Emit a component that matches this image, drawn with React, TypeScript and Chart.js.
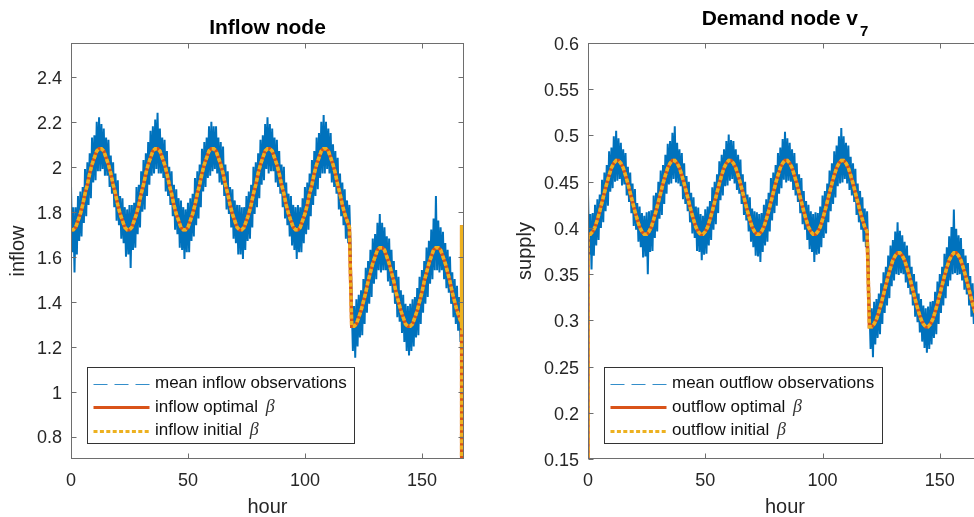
import React, { useEffect, useRef } from "react";
import { Chart, registerables } from "chart.js";

Chart.register(...registerables);

const FONT = "'Liberation Sans', Arial, Helvetica, sans-serif";
const BLUE = "#0072BD";
const RED = "#D95319";
const YELLOW = "#EDB120";
const TEXT = "#262626";
const FRAME = "#6e6e6e";

// ---------- axes ----------
const xTicks = [0, 50, 100, 150];
const inflowYTicks = [0.8, 1, 1.2, 1.4, 1.6, 1.8, 2, 2.2, 2.4];
const outflowYTicks = [0.15, 0.2, 0.25, 0.3, 0.35, 0.4, 0.45, 0.5, 0.55, 0.6];

// ---------- inflow node (hourly, hours 0..167) ----------
const inflowFit = [
  1.72, 1.72, 1.73, 1.76, 1.79, 1.83, 1.88, 1.92, 1.97, 2.01, 2.04, 2.07, 2.08, 2.08, 2.07, 2.04, 2.01, 1.97, 1.92, 1.88, 1.83, 1.79, 1.76, 1.73,
  1.72, 1.72, 1.73, 1.76, 1.79, 1.83, 1.88, 1.92, 1.97, 2.01, 2.04, 2.07, 2.08, 2.08, 2.07, 2.04, 2.01, 1.97, 1.92, 1.88, 1.83, 1.79, 1.76, 1.73,
  1.72, 1.72, 1.73, 1.76, 1.79, 1.83, 1.88, 1.92, 1.97, 2.01, 2.04, 2.07, 2.08, 2.08, 2.07, 2.04, 2.01, 1.97, 1.92, 1.88, 1.83, 1.79, 1.76, 1.73,
  1.72, 1.72, 1.73, 1.76, 1.79, 1.83, 1.88, 1.92, 1.97, 2.01, 2.04, 2.07, 2.08, 2.08, 2.07, 2.04, 2.01, 1.97, 1.92, 1.88, 1.83, 1.79, 1.76, 1.73,
  1.72, 1.72, 1.73, 1.76, 1.79, 1.83, 1.88, 1.92, 1.97, 2.01, 2.04, 2.07, 2.08, 2.08, 2.07, 2.04, 2.01, 1.97, 1.92, 1.88, 1.83, 1.79, 1.76, 1.73,
  1.29, 1.29, 1.30, 1.33, 1.36, 1.40, 1.44, 1.49, 1.53, 1.57, 1.60, 1.63, 1.64, 1.64, 1.63, 1.60, 1.57, 1.53, 1.49, 1.44, 1.40, 1.36, 1.33, 1.30,
  1.29, 1.29, 1.30, 1.33, 1.36, 1.40, 1.44, 1.49, 1.53, 1.57, 1.60, 1.63, 1.64, 1.64, 1.63, 1.60, 1.57, 1.53, 1.49, 1.44, 1.40, 1.36, 1.33, 1.30,
];
const inflowFitPreX: number[] = [];
const inflowFitPreY: number[] = [];
const inflowFitPostX = [167, 167];
const inflowFitPostY = [1.74, 0];

const inflowObsHigh = [
  1.92, 1.82, 1.82, 1.87, 1.89, 1.91, 1.99, 2.02, 2.06, 2.13, 2.14, 2.20, 2.22, 2.19, 2.17, 2.13, 2.12, 2.05, 2.02, 1.97, 1.94, 1.87, 1.86, 1.82,
  1.81, 1.83, 1.83, 1.84, 1.91, 1.92, 1.98, 2.03, 2.06, 2.11, 2.16, 2.18, 2.21, 2.24, 2.17, 2.13, 2.12, 2.07, 2.00, 1.98, 1.92, 1.90, 1.86, 1.85,
  1.82, 1.81, 1.84, 1.86, 1.88, 1.95, 1.98, 2.01, 2.08, 2.11, 2.13, 2.18, 2.20, 2.18, 2.18, 2.13, 2.11, 2.09, 2.01, 1.98, 1.91, 1.90, 1.85, 1.83,
  1.83, 1.82, 1.82, 1.87, 1.89, 1.92, 2.00, 2.02, 2.06, 2.12, 2.14, 2.19, 2.22, 2.19, 2.17, 2.13, 2.12, 2.07, 2.01, 2.00, 1.93, 1.88, 1.87, 1.83,
  1.82, 1.83, 1.82, 1.86, 1.91, 1.93, 1.97, 2.03, 2.07, 2.13, 2.15, 2.20, 2.23, 2.20, 2.17, 2.15, 2.10, 2.07, 2.04, 1.97, 1.93, 1.90, 1.85, 1.83,
  1.39, 1.38, 1.41, 1.43, 1.45, 1.50, 1.55, 1.58, 1.63, 1.68, 1.70, 1.75, 1.79, 1.75, 1.73, 1.69, 1.68, 1.63, 1.58, 1.54, 1.51, 1.45, 1.43, 1.39,
  1.38, 1.39, 1.41, 1.42, 1.46, 1.51, 1.54, 1.58, 1.64, 1.67, 1.72, 1.77, 1.87, 1.76, 1.73, 1.71, 1.66, 1.63, 1.60, 1.53, 1.50, 1.47, 1.42, 1.40,
];
const inflowObsLow = [
  1.62, 1.53, 1.61, 1.67, 1.69, 1.75, 1.78, 1.83, 1.86, 1.93, 1.94, 1.98, 1.98, 1.99, 1.96, 1.96, 1.91, 1.88, 1.82, 1.76, 1.74, 1.68, 1.66, 1.60,
  1.61, 1.55, 1.63, 1.64, 1.70, 1.73, 1.80, 1.81, 1.87, 1.92, 1.96, 1.97, 1.99, 1.97, 1.97, 1.95, 1.89, 1.87, 1.83, 1.78, 1.72, 1.70, 1.64, 1.63,
  1.59, 1.62, 1.62, 1.67, 1.69, 1.74, 1.77, 1.82, 1.89, 1.91, 1.95, 1.96, 1.98, 1.99, 1.97, 1.93, 1.92, 1.87, 1.81, 1.79, 1.73, 1.68, 1.66, 1.61,
  1.61, 1.59, 1.63, 1.67, 1.68, 1.73, 1.79, 1.82, 1.86, 1.92, 1.94, 1.99, 1.97, 1.98, 1.98, 1.93, 1.91, 1.88, 1.82, 1.77, 1.74, 1.69, 1.65, 1.63,
  1.59, 1.62, 1.62, 1.66, 1.70, 1.72, 1.78, 1.83, 1.87, 1.90, 1.95, 1.97, 1.97, 1.99, 1.97, 1.93, 1.91, 1.88, 1.81, 1.78, 1.74, 1.68, 1.66, 1.64,
  1.18, 1.15, 1.20, 1.24, 1.25, 1.30, 1.35, 1.39, 1.42, 1.48, 1.50, 1.54, 1.53, 1.54, 1.54, 1.49, 1.47, 1.44, 1.39, 1.33, 1.31, 1.26, 1.22, 1.18,
  1.16, 1.18, 1.20, 1.24, 1.25, 1.30, 1.35, 1.39, 1.42, 1.48, 1.50, 1.54, 1.54, 1.53, 1.54, 1.50, 1.46, 1.44, 1.39, 1.33, 1.30, 1.27, 1.22, 1.20,
];

// ---------- demand node v7 (hourly, hours 0..167) ----------
const outflowFit = [
  0.393, 0.393, 0.396, 0.401, 0.409, 0.418, 0.428, 0.438, 0.448, 0.457, 0.465, 0.470, 0.473, 0.473, 0.470, 0.465, 0.457, 0.448, 0.438, 0.428, 0.418, 0.409, 0.401, 0.396,
  0.393, 0.393, 0.396, 0.401, 0.409, 0.418, 0.428, 0.438, 0.448, 0.457, 0.465, 0.470, 0.473, 0.473, 0.470, 0.465, 0.457, 0.448, 0.438, 0.428, 0.418, 0.409, 0.401, 0.396,
  0.393, 0.393, 0.396, 0.401, 0.409, 0.418, 0.428, 0.438, 0.448, 0.457, 0.465, 0.470, 0.473, 0.473, 0.470, 0.465, 0.457, 0.448, 0.438, 0.428, 0.418, 0.409, 0.401, 0.396,
  0.393, 0.393, 0.396, 0.401, 0.409, 0.418, 0.428, 0.438, 0.448, 0.457, 0.465, 0.470, 0.473, 0.473, 0.470, 0.465, 0.457, 0.448, 0.438, 0.428, 0.418, 0.409, 0.401, 0.396,
  0.393, 0.393, 0.396, 0.401, 0.409, 0.418, 0.428, 0.438, 0.448, 0.457, 0.465, 0.470, 0.473, 0.473, 0.470, 0.465, 0.457, 0.448, 0.438, 0.428, 0.418, 0.409, 0.401, 0.396,
  0.293, 0.293, 0.296, 0.301, 0.309, 0.318, 0.328, 0.338, 0.348, 0.357, 0.365, 0.370, 0.373, 0.373, 0.370, 0.365, 0.357, 0.348, 0.338, 0.328, 0.318, 0.309, 0.301, 0.296,
  0.293, 0.293, 0.296, 0.301, 0.309, 0.318, 0.328, 0.338, 0.348, 0.357, 0.365, 0.370, 0.373, 0.373, 0.370, 0.365, 0.357, 0.348, 0.338, 0.328, 0.318, 0.309, 0.301, 0.296,
];
const outflowFitPreX = [0];
const outflowFitPreY = [0];
const outflowFitPostX = [167, 167];
const outflowFitPostY = [0.396, 0];

const outflowObsHigh = [
  0.438, 0.415, 0.416, 0.425, 0.431, 0.436, 0.452, 0.460, 0.468, 0.483, 0.487, 0.499, 0.505, 0.497, 0.492, 0.485, 0.481, 0.466, 0.460, 0.448, 0.442, 0.427, 0.423, 0.416,
  0.413, 0.417, 0.418, 0.419, 0.435, 0.438, 0.450, 0.462, 0.468, 0.479, 0.491, 0.494, 0.503, 0.510, 0.492, 0.485, 0.481, 0.470, 0.456, 0.450, 0.438, 0.433, 0.423, 0.422,
  0.415, 0.413, 0.420, 0.423, 0.429, 0.444, 0.450, 0.458, 0.472, 0.479, 0.485, 0.494, 0.501, 0.495, 0.494, 0.485, 0.479, 0.474, 0.458, 0.450, 0.436, 0.433, 0.421, 0.418,
  0.417, 0.415, 0.416, 0.425, 0.431, 0.438, 0.454, 0.460, 0.468, 0.481, 0.487, 0.496, 0.504, 0.497, 0.492, 0.485, 0.481, 0.470, 0.458, 0.454, 0.440, 0.429, 0.425, 0.418,
  0.415, 0.417, 0.416, 0.423, 0.435, 0.440, 0.448, 0.462, 0.470, 0.483, 0.489, 0.499, 0.508, 0.499, 0.492, 0.489, 0.477, 0.470, 0.464, 0.448, 0.440, 0.433, 0.421, 0.418,
  0.315, 0.313, 0.320, 0.323, 0.329, 0.340, 0.352, 0.358, 0.370, 0.381, 0.387, 0.396, 0.406, 0.397, 0.392, 0.385, 0.381, 0.370, 0.358, 0.350, 0.342, 0.329, 0.323, 0.316,
  0.313, 0.315, 0.320, 0.321, 0.331, 0.342, 0.350, 0.358, 0.372, 0.379, 0.391, 0.401, 0.420, 0.399, 0.392, 0.389, 0.377, 0.370, 0.362, 0.348, 0.340, 0.333, 0.321, 0.318,
];
const outflowObsLow = [
  0.371, 0.355, 0.370, 0.381, 0.387, 0.400, 0.406, 0.418, 0.424, 0.439, 0.443, 0.450, 0.451, 0.453, 0.446, 0.447, 0.435, 0.428, 0.416, 0.402, 0.398, 0.385, 0.379, 0.368,
  0.369, 0.350, 0.374, 0.375, 0.389, 0.396, 0.410, 0.414, 0.426, 0.437, 0.447, 0.448, 0.453, 0.449, 0.448, 0.445, 0.431, 0.426, 0.418, 0.406, 0.394, 0.389, 0.375, 0.374,
  0.365, 0.371, 0.372, 0.381, 0.387, 0.398, 0.404, 0.416, 0.430, 0.435, 0.445, 0.446, 0.451, 0.453, 0.448, 0.441, 0.437, 0.426, 0.414, 0.408, 0.396, 0.385, 0.379, 0.370,
  0.369, 0.363, 0.374, 0.381, 0.385, 0.396, 0.408, 0.416, 0.424, 0.437, 0.443, 0.452, 0.449, 0.451, 0.450, 0.441, 0.435, 0.428, 0.416, 0.404, 0.398, 0.387, 0.377, 0.374,
  0.363, 0.371, 0.372, 0.379, 0.389, 0.394, 0.406, 0.418, 0.426, 0.433, 0.445, 0.448, 0.449, 0.453, 0.448, 0.441, 0.435, 0.428, 0.414, 0.406, 0.398, 0.385, 0.379, 0.376,
  0.269, 0.260, 0.274, 0.281, 0.285, 0.296, 0.308, 0.316, 0.324, 0.337, 0.343, 0.350, 0.349, 0.351, 0.350, 0.341, 0.335, 0.328, 0.316, 0.304, 0.298, 0.287, 0.277, 0.270,
  0.265, 0.269, 0.274, 0.281, 0.285, 0.296, 0.308, 0.316, 0.324, 0.337, 0.343, 0.350, 0.351, 0.349, 0.350, 0.343, 0.333, 0.328, 0.316, 0.304, 0.296, 0.289, 0.277, 0.274,
];

const inflowLabels = ["mean inflow observations", "inflow optimal β", "inflow initial β"];
const outflowLabels = ["mean outflow observations", "outflow optimal β", "outflow initial β"];

// ---------- helpers ----------
type Pt = { x: number; y: number };

function obsPoints(high: number[], low: number[]): Pt[] {
  const pts: Pt[] = [];
  high.forEach((h, i) => {
    pts.push({ x: i, y: h });
    pts.push({ x: i + 0.5, y: low[i] });
  });
  return pts;
}

function fitPoints(fit: number[], preX: number[], preY: number[], postX: number[], postY: number[]): Pt[] {
  const pts: Pt[] = [];
  preX.forEach((x, i) => pts.push({ x, y: preY[i] }));
  fit.forEach((y, i) => pts.push({ x: i, y }));
  postX.forEach((x, i) => pts.push({ x, y: postY[i] }));
  return pts;
}

const framePlugin = {
  id: "matlabFrame",
  afterDatasetsDraw(chart: any) {
    const { ctx, chartArea, scales } = chart;
    const { left, right, top, bottom } = chartArea;
    const L = Math.round(left) + 0.5;
    const R = Math.round(right) - 0.5;
    const T = Math.round(top) + 0.5;
    const B = Math.round(bottom) - 0.5;
    ctx.save();
    ctx.strokeStyle = FRAME;
    ctx.lineWidth = 1;
    ctx.setLineDash([]);
    ctx.strokeRect(L, T, R - L, B - T);
    const tl = 5;
    ctx.beginPath();
    scales.x.ticks.forEach((t: any) => {
      const px = Math.round(scales.x.getPixelForValue(t.value)) + 0.5;
      ctx.moveTo(px, B);
      ctx.lineTo(px, B - tl);
      ctx.moveTo(px, T);
      ctx.lineTo(px, T + tl);
    });
    scales.y.ticks.forEach((t: any) => {
      const py = Math.round(scales.y.getPixelForValue(t.value)) + 0.5;
      ctx.moveTo(L, py);
      ctx.lineTo(L + tl, py);
      ctx.moveTo(R, py);
      ctx.lineTo(R - tl, py);
    });
    ctx.stroke();
    ctx.restore();
  },
};

const legendPlugin = {
  id: "matlabLegend",
  afterDraw(chart: any) {
    const { ctx, chartArea } = chart;
    const datasets = chart.data.datasets;
    const fontMain = `17px ${FONT}`;
    const fontBeta = `italic 18px 'Liberation Serif', 'DejaVu Serif', serif`;
    ctx.save();
    const widths = datasets.map((d: any) => {
      const label: string = d.label;
      if (label.endsWith("β")) {
        ctx.font = fontMain;
        const w1 = ctx.measureText(label.slice(0, -1)).width;
        ctx.font = fontBeta;
        return w1 + 3 + ctx.measureText("β").width;
      }
      ctx.font = fontMain;
      return ctx.measureText(label).width;
    });
    const maxW = Math.max(...widths);
    const boxL = Math.round(chartArea.left + 16) + 0.5;
    const boxB = Math.round(chartArea.bottom - 16) + 0.5;
    const boxH = 76;
    const boxT = boxB - boxH;
    const boxW = Math.round(67.5 + maxW + 8);
    ctx.fillStyle = "#ffffff";
    ctx.fillRect(boxL, boxT, boxW, boxH);
    ctx.strokeStyle = "#333333";
    ctx.lineWidth = 1;
    ctx.setLineDash([]);
    ctx.strokeRect(boxL, boxT, boxW, boxH);
    const rows = [boxT + 16, boxT + 39.5, boxT + 63];
    datasets.forEach((d: any, i: number) => {
      const y = rows[i];
      ctx.save();
      ctx.beginPath();
      ctx.strokeStyle = d.borderColor;
      if (i === 0) {
        ctx.globalAlpha = 0.8;
        ctx.lineWidth = 1;
        ctx.setLineDash([14, 7]);
      } else if (i === 1) {
        ctx.lineWidth = 3;
        ctx.setLineDash([]);
      } else {
        ctx.lineWidth = 3;
        ctx.setLineDash(d.borderDash || []);
      }
      ctx.moveTo(boxL + 6, Math.round(y) + 0.5);
      ctx.lineTo(boxL + 62, Math.round(y) + 0.5);
      ctx.stroke();
      ctx.restore();
      const label: string = d.label;
      ctx.fillStyle = "#111111";
      ctx.textBaseline = "middle";
      ctx.textAlign = "left";
      const tx = boxL + 67.5;
      if (label.endsWith("β")) {
        const main = label.slice(0, -1);
        ctx.font = fontMain;
        ctx.fillText(main, tx, y);
        const w1 = ctx.measureText(main).width;
        ctx.font = fontBeta;
        ctx.fillStyle = "#333333";
        ctx.fillText("β", tx + w1 + 3, y);
      } else {
        ctx.font = fontMain;
        ctx.fillText(label, tx, y);
      }
    });
    ctx.restore();
  },
};

type PanelDef = {
  title: string;
  sub: string;
  yLabel: string;
  yMin: number;
  yMax: number;
  yTicks: number[];
  labels: string[];
  obs: Pt[];
  fit: Pt[];
  width: number;
  yAxisWidth: number;
  padRight: number;
  yTitlePad: number;
};

function makeTitlePlugin(title: string, sub: string) {
  return {
    id: "matlabTitle",
    afterDraw(chart: any) {
      const { ctx, chartArea } = chart;
      const cx = (chartArea.left + chartArea.right) / 2;
      ctx.save();
      ctx.fillStyle = "#000000";
      ctx.textBaseline = "alphabetic";
      ctx.textAlign = "left";
      const mainFont = `bold 21px ${FONT}`;
      const subFont = `bold 15px ${FONT}`;
      ctx.font = mainFont;
      const w1 = ctx.measureText(title).width;
      if (sub) {
        ctx.font = subFont;
        const w2 = ctx.measureText(sub).width;
        const start = cx - (w1 + 2 + w2) / 2;
        ctx.font = mainFont;
        ctx.fillText(title, start, 25);
        ctx.font = subFont;
        ctx.fillText(sub, start + w1 + 2, 36);
      } else {
        ctx.fillText(title, cx - w1 / 2, 33.5);
      }
      ctx.restore();
    },
  };
}

function Panel({ def, left }: { def: PanelDef; left: number }) {
  const ref = useRef<HTMLCanvasElement | null>(null);
  useEffect(() => {
    if (!ref.current) return;
    const chart = new Chart(ref.current, {
      type: "line",
      data: {
        datasets: [
          {
            label: def.labels[0],
            data: def.obs,
            borderColor: BLUE,
            borderWidth: 2,
            pointRadius: 0,
            fill: false,
            tension: 0,
            borderJoinStyle: "bevel",
            order: 2,
            clip: 0,
          } as any,
          {
            label: def.labels[1],
            data: def.fit,
            borderColor: RED,
            borderWidth: 3.5,
            pointRadius: 0,
            fill: false,
            tension: 0,
            order: 1,
            clip: 0,
          },
          {
            label: def.labels[2],
            data: def.fit,
            borderColor: YELLOW,
            borderWidth: 3.5,
            borderDash: [4, 2.4],
            borderCapStyle: "butt",
            pointRadius: 0,
            fill: false,
            tension: 0,
            order: 0,
            clip: 0,
          },
        ],
      },
      options: {
        animation: false,
        responsive: false,
        events: [],
        layout: { padding: { left: 0, right: def.padRight, top: 43, bottom: 0 } },
        plugins: {
          legend: { display: false },
          tooltip: { enabled: false },
          title: { display: false },
        },
        scales: {
          x: {
            type: "linear",
            position: "bottom",
            min: 0,
            max: 168,
            afterBuildTicks: (s: any) => {
              s.ticks = xTicks.map((v) => ({ value: v }));
            },
            afterFit: (s: any) => {
              s.height = 58;
            },
            grid: { display: false, drawTicks: false },
            border: { display: false },
            ticks: {
              autoSkip: false,
              maxRotation: 0,
              padding: 11.5,
              color: TEXT,
              font: { family: FONT, size: 18 },
              callback: (v: any) => String(v),
            },
            title: {
              display: true,
              text: "hour",
              color: TEXT,
              font: { family: FONT, size: 20, lineHeight: 1 },
              padding: { top: 0, bottom: 0 },
            },
          },
          y: {
            type: "linear",
            position: "left",
            min: def.yMin,
            max: def.yMax,
            afterBuildTicks: (s: any) => {
              s.ticks = def.yTicks.map((v) => ({ value: v }));
            },
            afterFit: (s: any) => {
              s.width = def.yAxisWidth;
            },
            grid: { display: false, drawTicks: false },
            border: { display: false },
            ticks: {
              autoSkip: false,
              padding: 9,
              labelOffset: 2,
              color: TEXT,
              font: { family: FONT, size: 18 },
              callback: (v: any) => String(v),
            },
            title: {
              display: true,
              text: def.yLabel,
              color: TEXT,
              font: { family: FONT, size: 20, lineHeight: 1 },
              padding: { top: def.yTitlePad, bottom: 0 },
            },
          },
        },
      } as any,
      plugins: [framePlugin, legendPlugin, makeTitlePlugin(def.title, def.sub)],
    });
    return () => chart.destroy();
  }, [def]);
  return (
    <canvas
      ref={ref}
      width={def.width}
      height={517}
      style={{ position: "absolute", left, top: 0, width: def.width, height: 517 }}
    />
  );
}

const inflowDef: PanelDef = {
  title: "Inflow node",
  sub: "",
  yLabel: "inflow",
  yMin: 0.7,
  yMax: 2.55,
  yTicks: inflowYTicks,
  labels: inflowLabels,
  obs: obsPoints(inflowObsHigh, inflowObsLow),
  fit: fitPoints(inflowFit, inflowFitPreX, inflowFitPreY, inflowFitPostX, inflowFitPostY),
  width: 487,
  yAxisWidth: 71,
  padRight: 23,
  yTitlePad: 8,
};

const outflowDef: PanelDef = {
  title: "Demand node v",
  sub: "7",
  yLabel: "supply",
  yMin: 0.15,
  yMax: 0.6,
  yTicks: outflowYTicks,
  labels: outflowLabels,
  obs: obsPoints(outflowObsHigh, outflowObsLow),
  fit: fitPoints(outflowFit, outflowFitPreX, outflowFitPreY, outflowFitPostX, outflowFitPostY),
  width: 520,
  yAxisWidth: 101,
  padRight: 25,
  yTitlePad: 28,
};

export default function App() {
  return (
    <div
      style={{
        position: "fixed",
        left: 0,
        top: 0,
        width: 974,
        height: 517,
        overflow: "hidden",
        background: "#ffffff",
      }}
    >
      <Panel def={inflowDef} left={0} />
      <Panel def={outflowDef} left={487} />
    </div>
  );
}
